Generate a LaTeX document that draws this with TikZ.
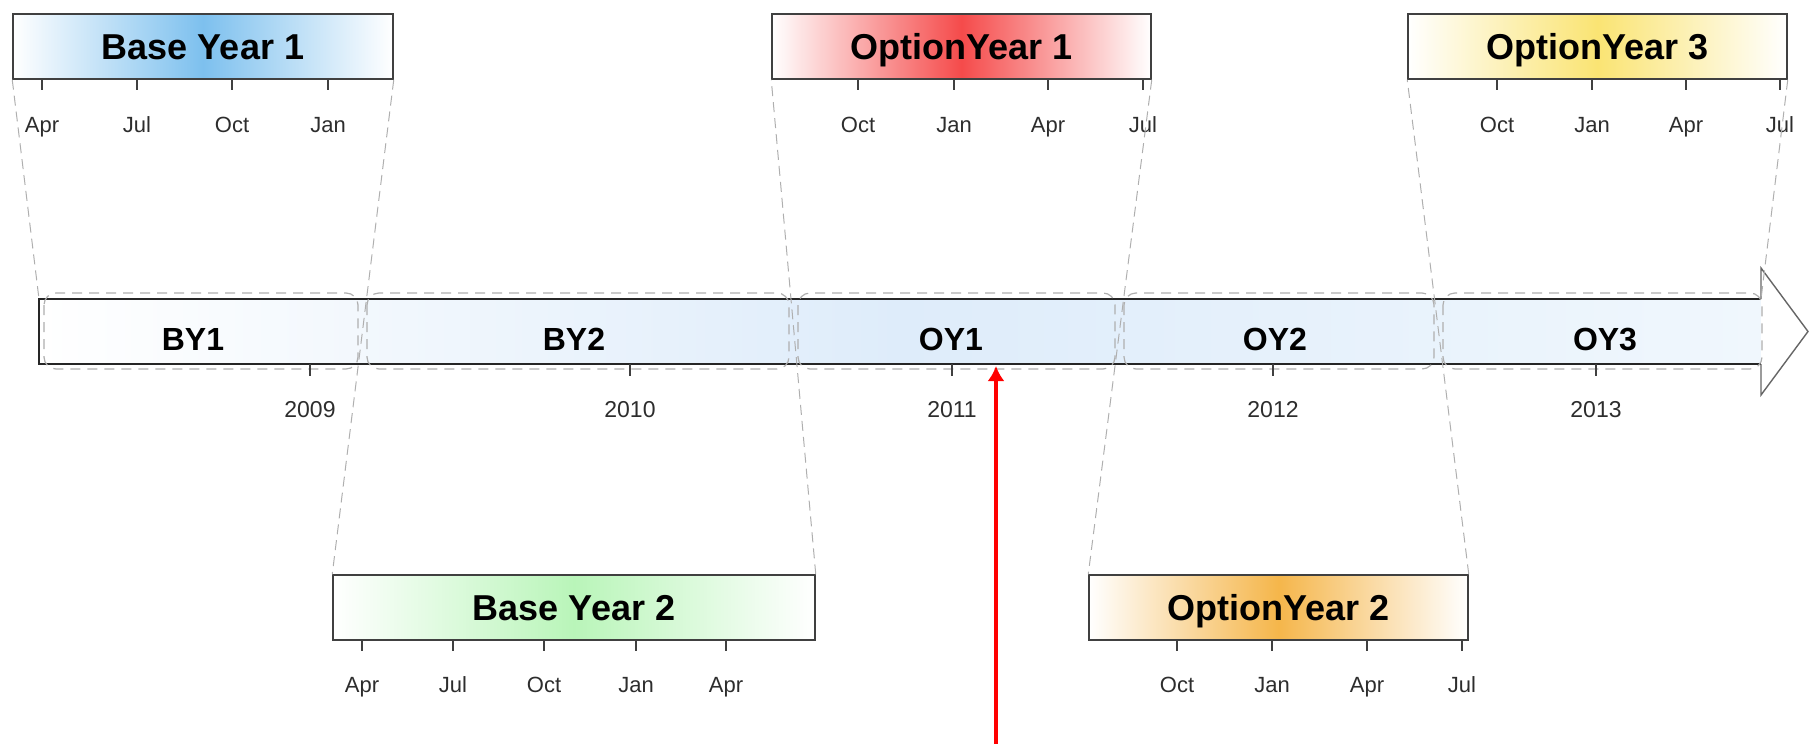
\documentclass[tikz,border=0pt]{standalone}
\usepackage{fontspec}
\setmainfont{Liberation Sans}
\usetikzlibrary{arrows.meta}
\definecolor{boxgray}{RGB}{64,64,64}
\definecolor{lblgray}{RGB}{45,45,45}
\definecolor{dashgray}{RGB}{175,175,175}
\definecolor{byblue}{RGB}{125,192,238}
\definecolor{bygreen}{RGB}{185,245,185}
\definecolor{oyred}{RGB}{245,75,75}
\definecolor{oyorange}{RGB}{245,182,75}
\definecolor{oyyellow}{RGB}{250,228,115}
\definecolor{barblue}{RGB}{222,236,250}
\definecolor{barlight}{RGB}{240,247,253}
\begin{document}
\begin{tikzpicture}[x=0.5pt,y=0.5pt,yscale=-1,
  yrbox/.style={draw=boxgray,line width=0.75pt,minimum height=32.5pt,inner sep=0pt,text height=12.8pt,text depth=0pt,font=\fontsize{18}{20}\selectfont\bfseries,left color=white,right color=white},
  tickln/.style={draw=boxgray,line width=0.6pt},
  monthlbl/.style={anchor=base,text=lblgray,font=\fontsize{11}{13}\selectfont,inner sep=0pt},
  zoomln/.style={draw=dashgray,line width=0.5pt,dash pattern=on 5pt off 3pt},
  segbox/.style={draw=dashgray,line width=0.6pt,dash pattern=on 5pt off 3.5pt,rounded corners=6pt},
  seglbl/.style={anchor=base,font=\fontsize{16}{18}\selectfont\bfseries,inner sep=0pt},
  yearlbl/.style={anchor=base,text=lblgray,font=\fontsize{11.5}{13}\selectfont,inner sep=0pt}]
\useasboundingbox (0,0) rectangle (1810,744);
% timeline bar
\coordinate (barnw) at (39,299);
\coordinate (barne) at (1761,299);
\coordinate (barse) at (1761,364);
\coordinate (barsw) at (39,364);
\path[left color=white,right color=barlight,middle color=barblue] (barnw) rectangle (barse);
\draw[draw=black!85,line width=0.8pt] (barne) -- (barnw) -- (barsw) -- (barse);
\draw[fill=white,draw=black!60,line width=0.7pt] (barse) -- (1761,395) -- (1808,331.5) -- (1761,268) -- (barne);
% segments
\draw[segbox] (44,293) rectangle (358,369);
\draw[segbox] (367,293) rectangle (789,369);
\draw[segbox] (798,293) rectangle (1115,369);
\draw[segbox] (1124,293) rectangle (1434,369);
\draw[segbox] (1443,293) rectangle (1762,369);
\node[seglbl] (sby1) at (193,350) {BY1};
\node[seglbl] (sby2) at (574,350) {BY2};
\node[seglbl] (soy1) at (951,350) {OY1};
\node[seglbl] (soy2) at (1275,350) {OY2};
\node[seglbl] (soy3) at (1605,350) {OY3};
\foreach \x/\yr in {310/2009,630/2010,952/2011,1273/2012,1596/2013}
  \draw[tickln] (\x,364) -- (\x,376) node[yearlbl] at (\x,417) {\yr};
% year boxes
\node[yrbox,minimum width=190pt,middle color=byblue] (by1) at (203,46.5) {Base Year 1};
\node[yrbox,minimum width=241pt,middle color=bygreen] (by2) at (574,607.5) {Base Year 2};
\node[yrbox,minimum width=189.5pt,middle color=oyred] (oy1) at (961.5,46.5) {OptionYear 1};
\node[yrbox,minimum width=189.5pt,middle color=oyorange] (oy2) at (1278.5,607.5) {OptionYear 2};
\node[yrbox,minimum width=189.5pt,middle color=oyyellow] (oy3) at (1597.5,46.5) {OptionYear 3};
\foreach \x/\m in {42/Apr,137/Jul,232/Oct,328/Jan,858/Oct,954/Jan,1048/Apr,1143/Jul,1497/Oct,1592/Jan,1686/Apr,1780/Jul}
  \draw[tickln] (\x,79) -- (\x,90) node[monthlbl] at (\x,132) {\m};
\foreach \x/\m in {362/Apr,453/Jul,544/Oct,636/Jan,726/Apr,1177/Oct,1272/Jan,1367/Apr,1462/Jul}
  \draw[tickln] (\x,640) -- (\x,651) node[monthlbl] at (\x,692) {\m};
% zoom lines
\draw[zoomln] (by1.south west) -- (barnw);
\draw[zoomln] (by1.south east) -- (by2.north west);
\draw[zoomln] (by2.north east) -- (oy1.south west);
\draw[zoomln] (oy1.south east) -- (oy2.north west);
\draw[zoomln] (oy2.north east) -- (oy3.south west);
\draw[zoomln] (oy3.south east) -- (barne);
% marker
\coordinate (redfoot) at (996,744);
\coordinate (redtip) at (996,366);
\draw[red,line width=2pt,-{Latex[length=7.5pt,width=8.5pt]}] (redfoot) -- (redtip);
\end{tikzpicture}
\end{document}
